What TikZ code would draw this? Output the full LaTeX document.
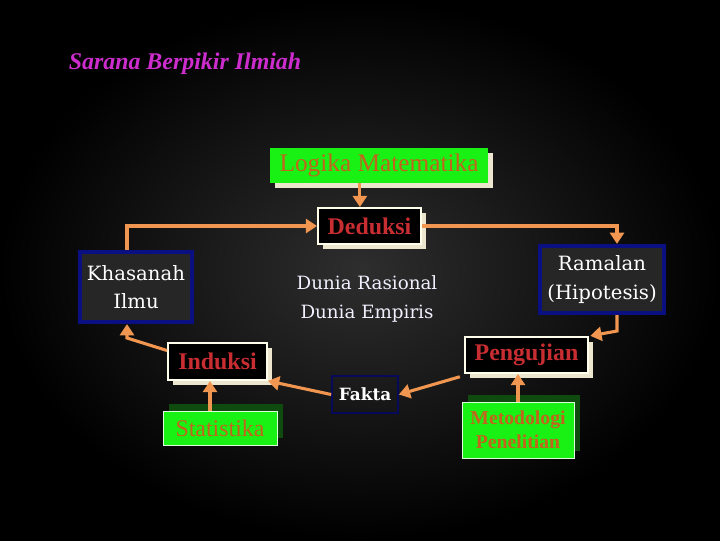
\documentclass[tikz,border=0pt]{standalone}
\usepackage{fontspec}
\setmainfont{Liberation Serif}
\newfontfamily\centfont{DejaVu Serif}
\usetikzlibrary{arrows.meta,shadows}
\definecolor{arrorange}{RGB}{240,150,80}
\definecolor{navyline}{RGB}{10,15,130}
\definecolor{limebox}{RGB}{25,240,20}
\definecolor{brownink}{RGB}{195,100,30}
\definecolor{redink}{RGB}{200,45,50}
\definecolor{creamshade}{RGB}{235,230,205}
\definecolor{darkleaf}{RGB}{15,75,15}
\definecolor{pinkink}{RGB}{205,45,205}

\begin{document}
\begin{tikzpicture}[x=0.025cm,y=-0.025cm,
	arr/.style={draw=arrorange,line width=2.2pt,-{Triangle[width=10pt,length=8pt]}},
	greenbox/.style={fill=limebox,draw=white!85!limebox,line width=0.6pt,text=brownink,inner sep=2pt,
		drop shadow={fill=darkleaf,opacity=1,shadow xshift=4pt,shadow yshift=5pt}},
	redbox/.style={fill=black,draw=white!92!yellow,line width=1.3pt,text=redink,inner sep=2pt,
		font=\fontsize{17}{19}\selectfont\bfseries,
		drop shadow={fill=creamshade,opacity=1,shadow xshift=3.5pt,shadow yshift=-3.5pt}},
	bluebox/.style={fill=black!85,draw=navyline,line width=3pt,text=white,align=center,inner sep=2pt,
		font=\centfont\fontsize{14}{20}\selectfont}]
	% background
	\useasboundingbox (0,0) rectangle (720,540);
	\shade[inner color=black!82,outer color=black] (0,0) rectangle (720,540);
	% title
	\node[text=pinkink,font=\fontsize{17}{19}\selectfont\bfseries\itshape] (judul) at (185,64) {Sarana Berpikir Ilmiah};
	% boxes
	\node[fill=limebox,text=brownink,minimum width=5.45cm,minimum height=0.875cm,font=\fontsize{18}{20}\selectfont,
		drop shadow={fill=creamshade,opacity=1,shadow xshift=3.5pt,shadow yshift=-3.5pt}] (logika) at (379,165.5) {Logika Matematika};
	\node[redbox,minimum width=2.575cm,minimum height=0.9cm] (deduksi) at (369.5,226) {Deduksi};
	\node[bluebox,minimum width=2.8cm,minimum height=1.75cm] (khasanah) at (136,287) {Khasanah\\Ilmu};
	\node[bluebox,minimum width=3.1cm,minimum height=1.675cm] (ramalan) at (602,279.5) {Ramalan\\(Hipotesis)};
	\node[text=blue!6!white,align=center,font=\centfont\fontsize{13}{20}\selectfont] (dunia) at (367,299) {Dunia Rasional\\Dunia Empiris};
	\node[redbox,minimum width=2.475cm,minimum height=0.925cm] (induksi) at (217.5,361.5) {Induksi};
	\node[redbox,minimum width=3.075cm,minimum height=0.9cm] (pengujian) at (526.5,355) {Pengujian};
	\node[draw=navyline!70!black,line width=1.2pt,text=white,minimum width=1.65cm,minimum height=0.925cm,
		font=\centfont\fontsize{12}{14}\selectfont\bfseries] (fakta) at (365,394.5) {Fakta};
	\node[greenbox,minimum width=2.85cm,minimum height=0.85cm,font=\fontsize{17}{19}\selectfont] (statistika) at (220,428) {Statistika};
	\node[greenbox,minimum width=2.8cm,minimum height=1.4cm,align=center,font=\fontsize{14}{17}\selectfont\bfseries] (metodologi) at (518,430) {Metodologi\\Penelitian};
	% connectors
	\coordinate (kbend) at (127,338);
	\coordinate (rbend) at (617,331);
	\draw[arr] ([xshift=-0.24cm]deduksi.north |- logika.south) -- ([xshift=-0.24cm]deduksi.north);
	\draw[arr] (khasanah.north -| kbend) |- (deduksi.west);
	\draw[arr] (deduksi.east) -| (ramalan.north -| rbend);
	\draw[arr,shorten >=1pt] (ramalan.south -| rbend) -- (rbend) -- (pengujian.north east);
	\draw[arr] ([yshift=-6pt]induksi.north west) -- (kbend) -- (khasanah.south -| kbend);
	\draw[arr] ([xshift=-3pt,yshift=-2pt]pengujian.south west) -- (fakta.east);
	\draw[arr] (fakta.west) -- (induksi.south east);
	\draw[arr] ([xshift=-0.25cm]statistika.north) -- ([xshift=-0.25cm]statistika.north |- induksi.south);
	\draw[arr] (metodologi.north) -- (metodologi.north |- pengujian.south);
\end{tikzpicture}
\end{document}
